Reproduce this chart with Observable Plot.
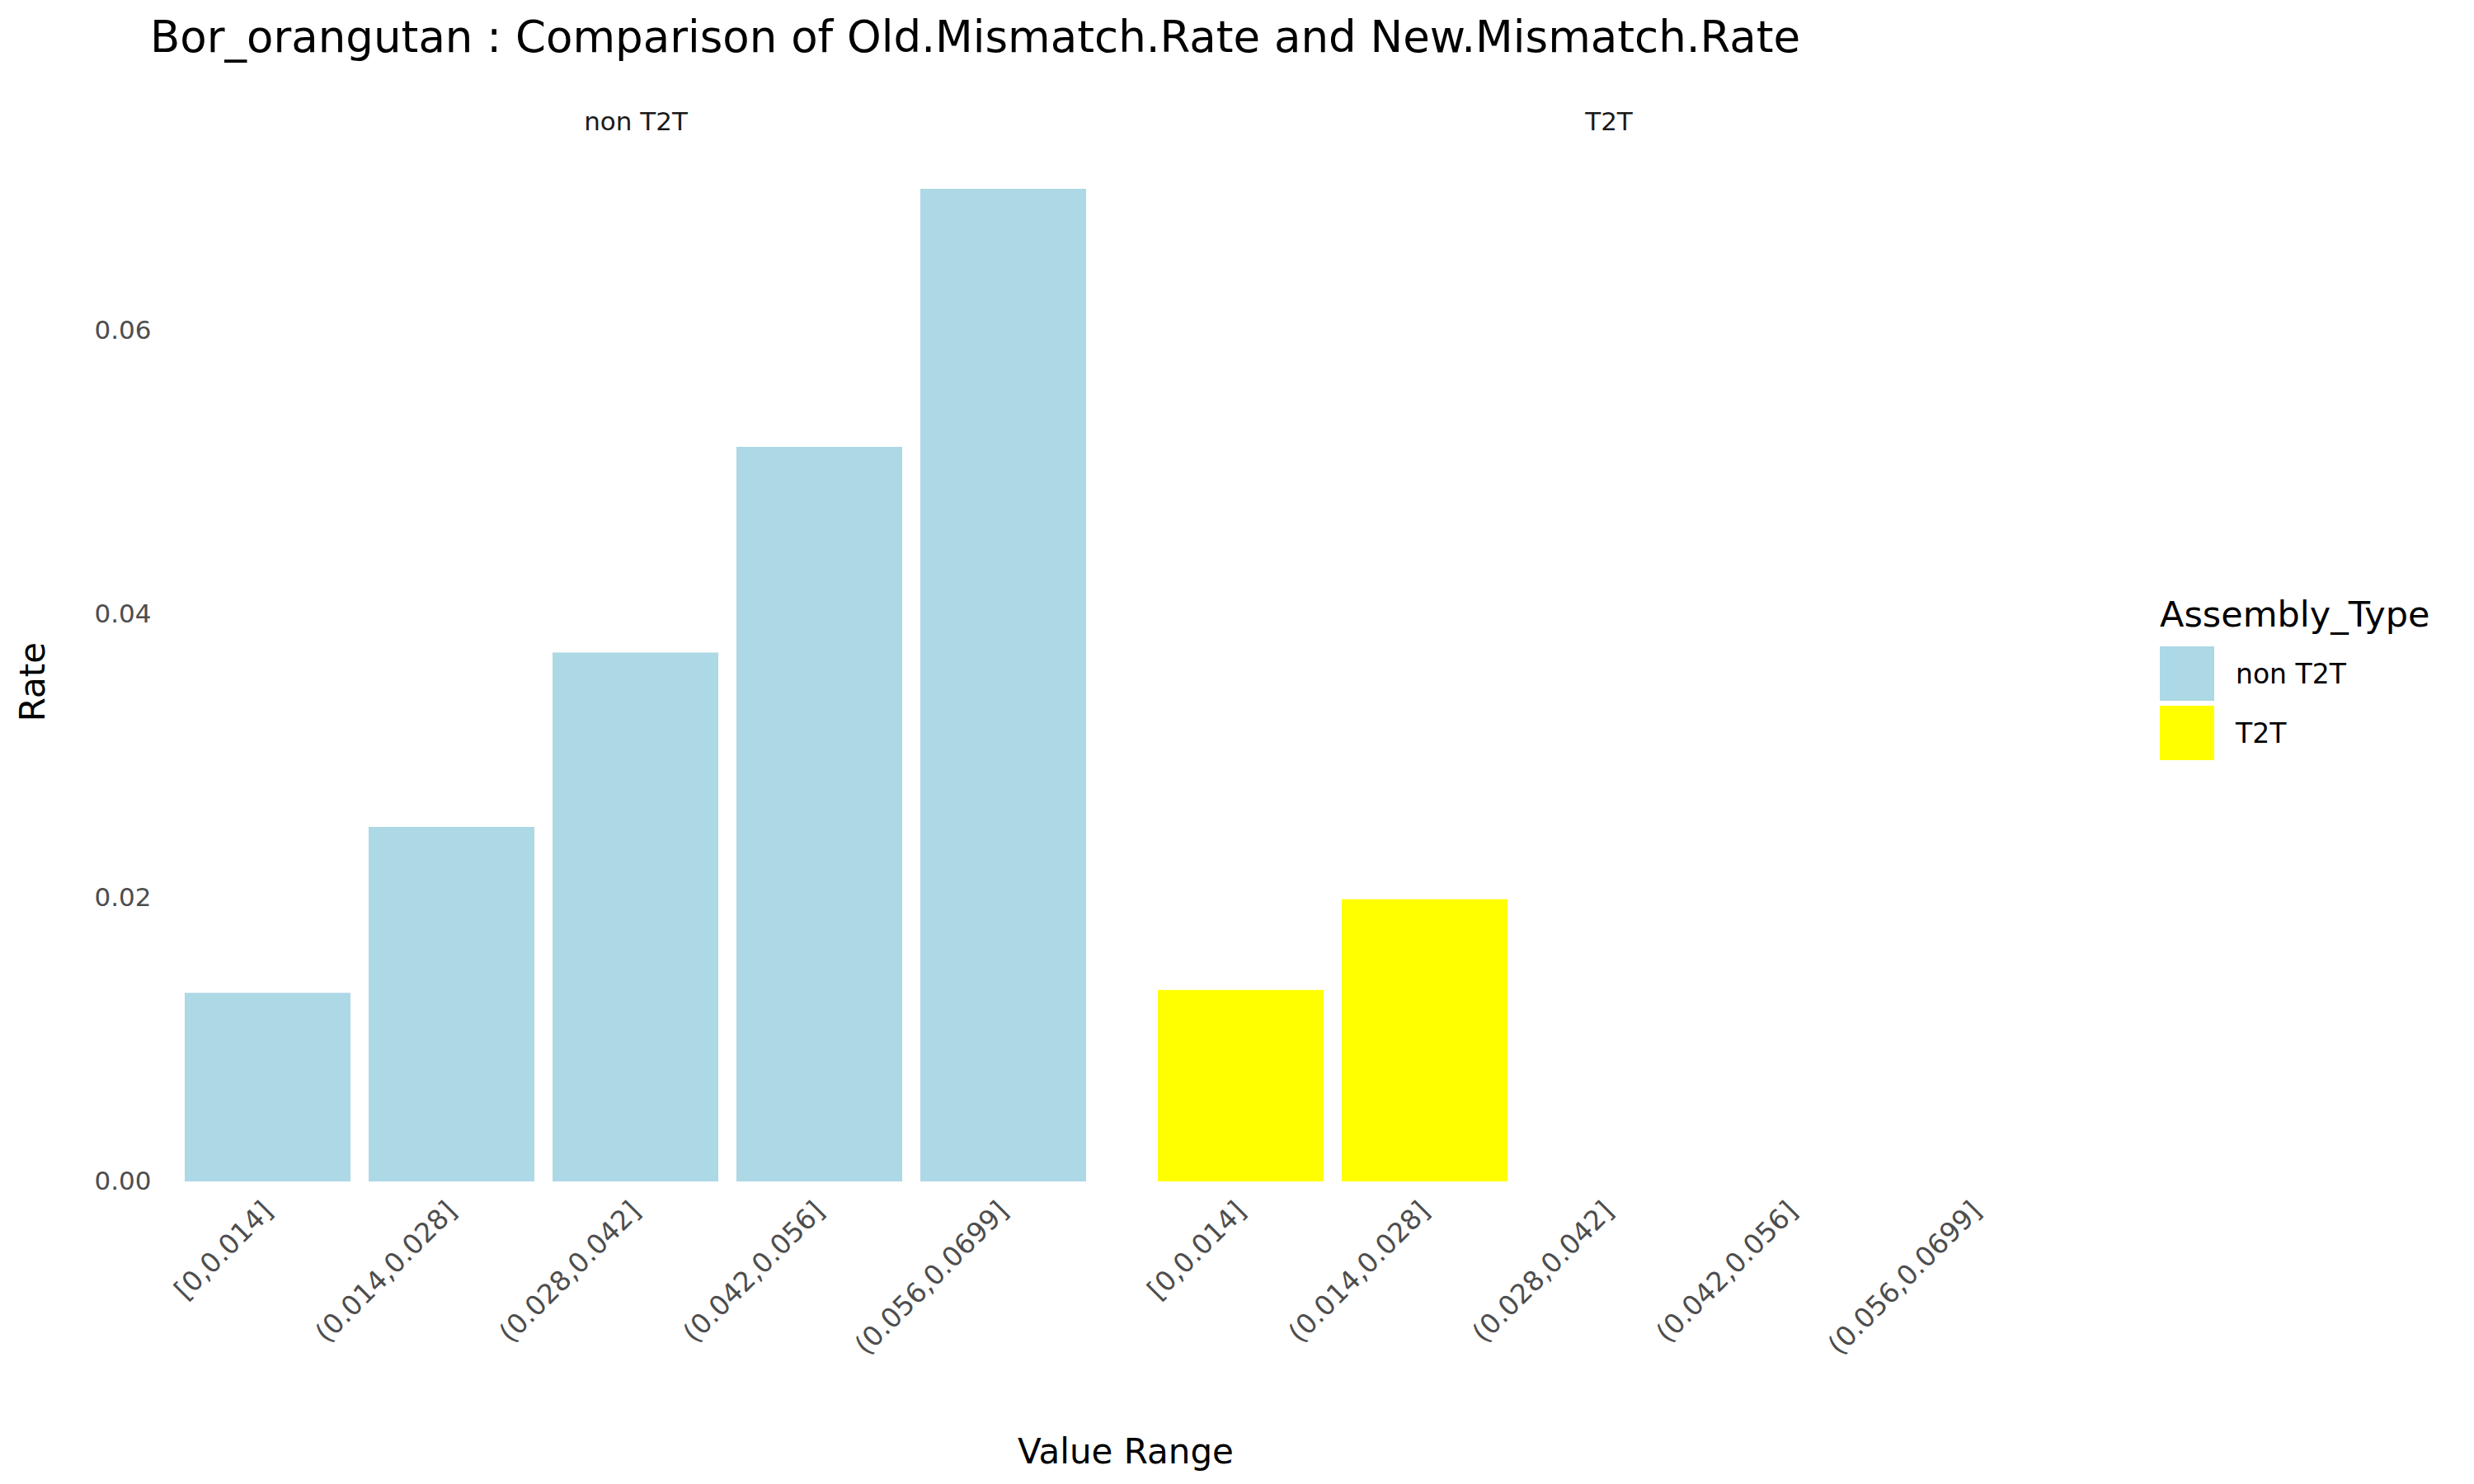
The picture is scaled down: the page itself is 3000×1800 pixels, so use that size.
<!DOCTYPE html>
<html><head><meta charset="utf-8">
<script src="https://cdn.jsdelivr.net/npm/d3@7"></script>
<script src="https://cdn.jsdelivr.net/npm/@observablehq/plot@0.6"></script>
<style>
body{margin:0;background:#fff;font-family:"DejaVu Sans",sans-serif}
#wrap{position:relative;width:3000px;height:1800px}
#title{position:absolute;left:182px;top:14px;font-size:53px;color:#000}
#chart{position:absolute;left:0;top:0}
#legend{position:absolute;left:2619px;top:720px;font-size:43px}
.item{display:flex;align-items:center;margin-top:14px;font-size:33px}
.sw{width:66px;height:66px;margin-right:26px}
</style></head><body>
<div id="wrap">
<div id="chart"></div>
<div id="title">Bor_orangutan : Comparison of Old.Mismatch.Rate and New.Mismatch.Rate</div>
<div id="legend"><div>Assembly_Type</div>
<div class="item"><div class="sw" style="background:#add8e6"></div>non T2T</div>
<div class="item" style="margin-top:6px"><div class="sw" style="background:#ffff00"></div>T2T</div></div>
</div>
<script>
const ranges = ["[0,0.014]","(0.014,0.028]","(0.028,0.042]","(0.042,0.056]","(0.056,0.0699]"];
const types = ["non T2T","T2T"];
const nonT2T = [0.0133, 0.0250, 0.0373, 0.0518, 0.0700];
const t2t = [0.0135, 0.0199, 0, 0, 0];
const colors = ["#add8e6","#ffff00"];

const data = [];
ranges.forEach((r,i)=>{
  data.push({type:types[0], range:r, rate:nonT2T[i]});
  data.push({type:types[1], range:r, rate:t2t[i]});
});

const chart = Plot.plot({
  width: 2520, height: 1800,
  marginLeft: 200, marginRight: 0, marginTop: 229, marginBottom: 367,
  style: {fontFamily:"DejaVu Sans", color:"#4d4d4d"},
  fx: {domain: types, padding: 0.035, axis: null},
  x: {domain: ranges, padding: 0.1, label: null},
  y: {domain: [0, 0.07], label: null},
  color: {domain: types, range: colors},
  marks: [
    Plot.barY(data, {fx:"type", x:"range", y:"rate", fill:"type"}),
    Plot.text(types, {fx: d=>d, text: d=>d, frameAnchor:"top", dy:-94, fontSize:31, fill:"#1a1a1a"}),
    Plot.axisX({tickRotate:-45, tickSize:0, tickPadding:30, label:null, fontSize:33, textAnchor:"end"}),
    Plot.axisY({ticks:[0,0.02,0.04,0.06], tickFormat:d3.format(".2f"), tickSize:0, tickPadding:18, label:null, fontSize:31})
  ]
});
d3.select("#chart").append(()=>chart);
const svg = d3.select(chart);
svg.append("text").attr("x",1365).attr("y",1775).attr("text-anchor","middle")
  .attr("font-size",42).attr("fill","#000").text("Value Range");
svg.append("text").attr("transform","translate(54,827) rotate(-90)").attr("text-anchor","middle")
  .attr("font-size",42).attr("fill","#000").text("Rate");
</script>
</body></html>
